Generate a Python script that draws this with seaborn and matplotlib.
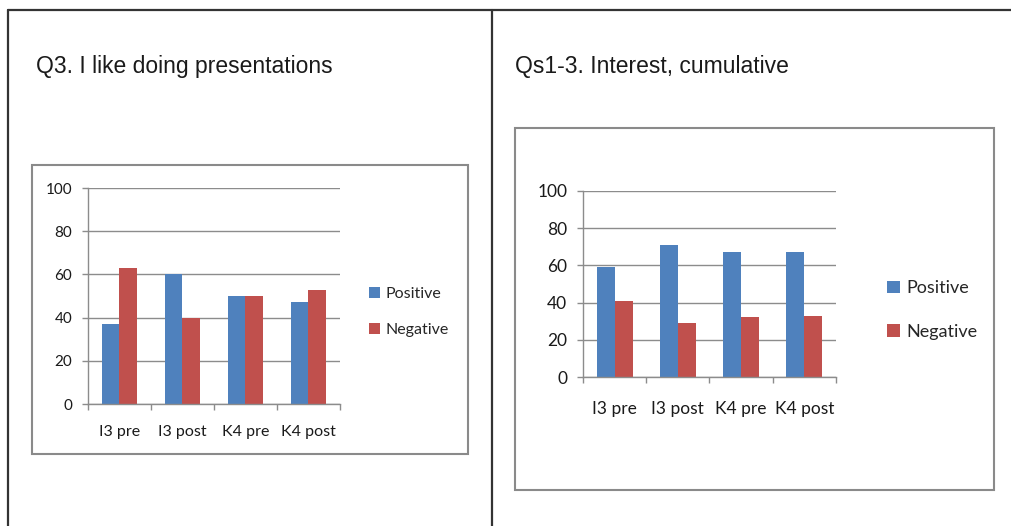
import matplotlib
matplotlib.use("Agg")
import matplotlib.pyplot as plt
from matplotlib.patches import Rectangle, Patch
from matplotlib.lines import Line2D
import seaborn as sns
import pandas as pd

# Survey results (percent of respondents)
groups = ["I3 pre", "I3 post", "K4 pre", "K4 post"]
series = ["Positive", "Negative"]

q3_positive = [37, 60, 50, 47]
q3_negative = [63, 40, 50, 53]

interest_positive = [59, 71, 67, 67]
interest_negative = [41, 29, 32, 33]

titles = ["Q3. I like doing presentations", "Qs1-3. Interest, cumulative"]
y_ticks = [0, 20, 40, 60, 80, 100]

palette = {"Positive": "#4F81BD", "Negative": "#C0504D"}
grid_color = "#8C8C8C"

sns.set_theme(style="white")
plt.rcParams["font.family"] = ["Lato", "DejaVu Sans"]

W, H = 1012, 526
fig = plt.figure(figsize=(W / 100, H / 100), dpi=100)


def fx(px):
    return px / W


def fy(py):
    return 1 - py / H


def long_frame(pos, neg):
    return pd.DataFrame({
        "group": groups * 2,
        "series": ["Positive"] * len(groups) + ["Negative"] * len(groups),
        "value": pos + neg,
    })


# Table rules around the two cells
rule = dict(color="#333333", lw=1.6, transform=fig.transFigure)
fig.add_artist(Line2D([fx(8), 1], [fy(10), fy(10)], **rule))
fig.add_artist(Line2D([fx(8), fx(8)], [fy(10), 0], **rule))
fig.add_artist(Line2D([fx(491.5), fx(491.5)], [fy(10), 0], **rule))

# Cell titles
fig.text(fx(36), fy(67), titles[0], fontsize=16.5, family="Liberation Sans",
         color="#1a1a1a", va="center", ha="left")
fig.text(fx(515), fy(67), titles[1], fontsize=16.5, family="Liberation Sans",
         color="#1a1a1a", va="center", ha="left")

panels = [
    dict(data=long_frame(q3_positive, q3_negative),
         box=(32, 165, 468, 454), axes=(88, 188, 340, 404),
         legend=(369, 312), tick_fs=11, label_fs=11.5, leg_fs=11.5,
         leg_gap=1.35, xpad=15),
    dict(data=long_frame(interest_positive, interest_negative),
         box=(515, 128, 994, 490), axes=(583, 191, 836, 377),
         legend=(887, 310), tick_fs=12.5, label_fs=12.5, leg_fs=13,
         leg_gap=1.5, xpad=17),
]

for p in panels:
    x0, y0, x1, y1 = p["box"]
    fig.add_artist(Rectangle((fx(x0), fy(y1)), fx(x1) - fx(x0), fy(y0) - fy(y1),
                             transform=fig.transFigure, fill=False,
                             edgecolor="#8A8A8A", lw=1.5))

    a0, b0, a1, b1 = p["axes"]
    ax = fig.add_axes([fx(a0), fy(b1), fx(a1) - fx(a0), fy(b0) - fy(b1)])
    sns.barplot(data=p["data"], x="group", y="value", hue="series",
                hue_order=series, order=groups, palette=palette,
                width=0.57, saturation=1, linewidth=0, ax=ax, legend=False)

    ax.set_ylim(0, 100)
    ax.set_xlim(-0.5, len(groups) - 0.5)
    ax.set_yticks(y_ticks)
    ax.set_yticklabels([str(t) for t in y_ticks], fontsize=p["tick_fs"],
                       color="#1a1a1a")
    ax.set_xticks(range(len(groups)))
    ax.set_xticklabels(groups, fontsize=p["label_fs"], color="#1a1a1a")
    ax.set_xlabel("")
    ax.set_ylabel("")

    ax.yaxis.grid(True, color=grid_color, lw=1)
    ax.set_axisbelow(True)
    for side in ["top", "right"]:
        ax.spines[side].set_visible(False)
    for side in ["left", "bottom"]:
        ax.spines[side].set_color(grid_color)
        ax.spines[side].set_linewidth(1)

    # Category boundary ticks below the x axis
    ax.set_xticks([i - 0.5 for i in range(len(groups) + 1)], minor=True)
    ax.tick_params(axis="x", which="major", length=0, pad=p["xpad"])
    ax.tick_params(axis="x", which="minor", length=4.5, width=1,
                   color=grid_color, direction="out", bottom=True)
    ax.tick_params(axis="y", which="major", length=4.3, width=1,
                   color=grid_color, direction="out", left=True, pad=7)

    handles = [Patch(facecolor=palette[s], edgecolor="none", label=s)
               for s in series]
    lx, ly = p["legend"]
    fig.legend(handles=handles, loc="center left",
               bbox_to_anchor=(fx(lx), fy(ly)), frameon=False,
               fontsize=p["leg_fs"], handlelength=0.7, handleheight=0.7,
               handletextpad=0.35, labelspacing=p["leg_gap"],
               borderpad=0, borderaxespad=0)

fig.savefig("out.png", dpi=100)
